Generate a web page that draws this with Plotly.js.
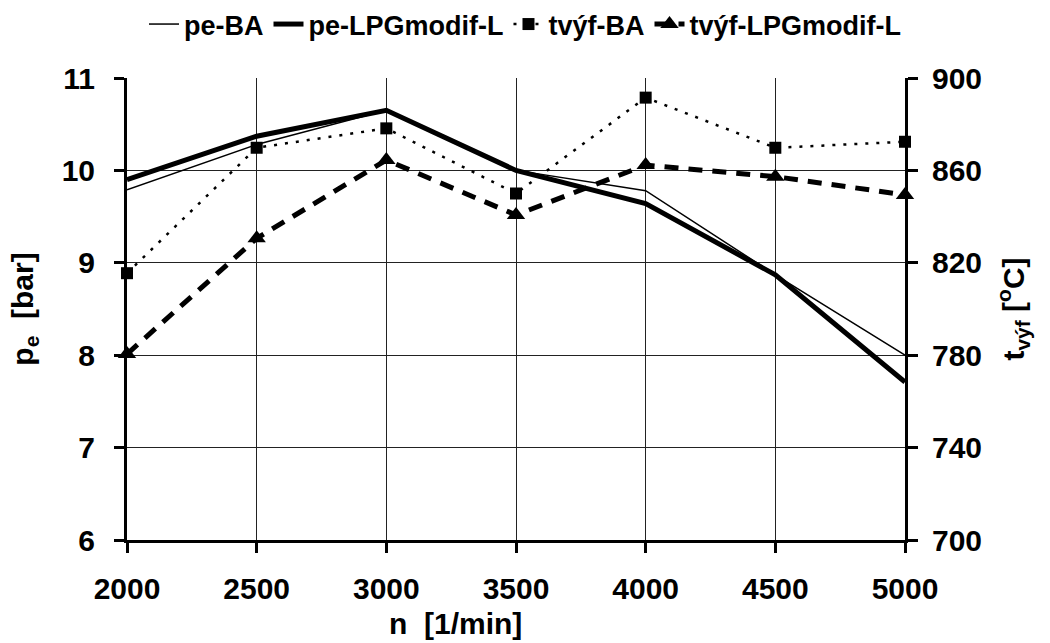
<!DOCTYPE html>
<html>
<head>
<meta charset="utf-8">
<script src="https://cdn.plot.ly/plotly-3.0.1.min.js"></script>
<style>html,body{margin:0;padding:0;background:#fff;}#chart{width:1050px;height:643px;}</style>
</head>
<body>
<div id="chart"></div>
<script>
const rpm = [2000, 2500, 3000, 3500, 4000, 4500, 5000];
const peBA = [9.79, 10.28, 10.65, 10.0, 9.78, 8.87, 8.0];
const peLPG = [9.9, 10.37, 10.65, 10.0, 9.64, 8.87, 7.71];
const tvyfBA = [815.5, 869.8, 878.2, 850, 891.5, 869.8, 872.4];
const tvyfLPG = [780.5, 830.6, 864.5, 840.7, 862.3, 857.3, 849.4];
const seriesNames = ['pe-BA', 'pe-LPGmodif-L', 'tvýf-BA', 'tvýf-LPGmodif-L'];

const FONT = 'Liberation Sans, Arial, sans-serif';
const bold = (s) => ({family: FONT, size: s, color: '#000', weight: 'bold'});

const traces = [
  {x: rpm, y: peBA, name: seriesNames[0], type: 'scatter', mode: 'lines',
   line: {color: '#000', width: 1.5}, yaxis: 'y', cliponaxis: false},
  {x: rpm, y: peLPG, name: seriesNames[1], type: 'scatter', mode: 'lines',
   line: {color: '#000', width: 5}, yaxis: 'y', cliponaxis: false},
  {x: rpm, y: tvyfBA, name: seriesNames[2], type: 'scatter', mode: 'lines+markers',
   line: {color: '#000', width: 2.5, dash: '3px,8px'},
   marker: {symbol: 'square', size: 12, color: '#000'}, yaxis: 'y2', cliponaxis: false},
  {x: rpm, y: tvyfLPG, name: seriesNames[3], type: 'scatter', mode: 'lines+markers',
   line: {color: '#000', width: 5, dash: '14px,10px'},
   marker: {symbol: 'triangle-up', size: 16, color: '#000'}, yaxis: 'y2', cliponaxis: false}
];

const layout = {
  width: 1050, height: 643,
  paper_bgcolor: '#fff', plot_bgcolor: '#fff',
  margin: {l: 127, r: 145, t: 78, b: 103},
  font: bold(30),
  showlegend: true,
  legend: {orientation: 'h', xref: 'container', yref: 'container', x: 0.5, xanchor: 'center',
           y: 1.0, yanchor: 'top', itemwidth: 30,
           font: bold(27), bgcolor: 'rgba(0,0,0,0)'},
  xaxis: {range: [2000, 5000], dtick: 500, tick0: 2000, showgrid: true, gridcolor: '#222', gridwidth: 1,
          showline: true, linecolor: '#000', linewidth: 3, ticks: 'outside', ticklen: 10, tickwidth: 3,
          tickcolor: '#000', tickfont: bold(30), zeroline: false, ticklabelstandoff: 10},
  yaxis: {range: [6, 11], dtick: 1, tick0: 6, showgrid: true, gridcolor: '#222', gridwidth: 1,
          showline: true, linecolor: '#000', linewidth: 3, ticks: 'outside', ticklen: 10, tickwidth: 3,
          tickcolor: '#000', tickfont: bold(30), zeroline: false, ticklabelstandoff: 13,
          title: {text: 'p<sub>e</sub>  [bar]', font: bold(30), standoff: 20}},
  yaxis2: {range: [700, 900], dtick: 40, tick0: 700, overlaying: 'y', side: 'right', showgrid: false,
           showline: true, linecolor: '#000', linewidth: 3, ticks: 'outside', ticklen: 10, tickwidth: 3,
           tickcolor: '#000', tickfont: bold(30), zeroline: false, ticklabelstandoff: 8,
           title: {text: 't<sub>výf</sub> [<sup>o</sup>C]', font: bold(30), standoff: 22}},
  annotations: [
    {text: 'n  [1/min]', xref: 'paper', yref: 'paper', x: 0.4216, y: -0.18,
     xanchor: 'center', yanchor: 'middle', showarrow: false, font: bold(30)}
  ]
};

Plotly.newPlot('chart', traces, layout, {displayModeBar: false, staticPlot: true});
</script>
</body>
</html>
